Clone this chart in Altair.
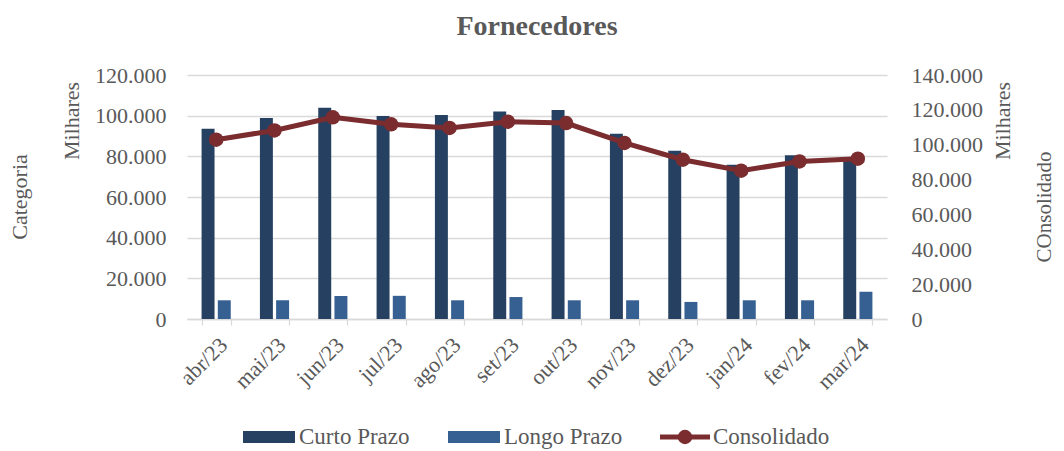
import altair as alt
import pandas as pd

categorias = ["abr/23", "mai/23", "jun/23", "jul/23", "ago/23", "set/23",
              "out/23", "nov/23", "dez/23", "jan/24", "fev/24", "mar/24"]
curto_prazo = [93600, 98800, 103900, 99800, 100300, 102100,
               102800, 91100, 82800, 75900, 80500, 78600]
longo_prazo = [9200, 9200, 11300, 11400, 9200, 10800,
               9200, 9200, 8400, 9200, 9200, 13400]
consolidado = [102900, 108200, 115700, 111700, 109600, 113200,
               112400, 101000, 91400, 85100, 90400, 92000]
series = ["Curto Prazo", "Longo Prazo"]
ticks_esq = [0, 20000, 40000, 60000, 80000, 100000, 120000]
ticks_dir = [0, 20000, 40000, 60000, 80000, 100000, 120000, 140000]

COR_CURTO = "#264061"
COR_LONGO = "#376092"
COR_LINHA = "#7B2C2E"
FONT = "Liberation Serif"
GRAY = "#595959"
GRID = "#D9D9D9"

df_barras = pd.DataFrame({
    "categoria": categorias * 2,
    "serie": [series[0]] * len(categorias) + [series[1]] * len(categorias),
    "valor": curto_prazo + longo_prazo,
})
df_linha = pd.DataFrame({"categoria": categorias, "valor": consolidado})

fmt = "replace(format(datum.value, ',.0f'), regexp(',', 'g'), '.')"

x_enc = alt.X(
    "categoria:N", sort=categorias,
    scale=alt.Scale(paddingInner=0.5, paddingOuter=0.25),
    axis=alt.Axis(title=None, labelAngle=-45, labelAlign="right", labelBaseline="top",
                  labelFont=FONT, labelFontSize=22, labelColor=GRAY, labelPadding=9,
                  domainColor=GRID, domainWidth=1.3, tickColor=GRID, tickWidth=1.3,
                  tickSize=6, tickBand="extent", grid=False),
)

y_esq = alt.Y(
    "valor:Q", scale=alt.Scale(domain=[0, 120000], nice=False),
    axis=alt.Axis(orient="left", title=None, values=ticks_esq, labelExpr=fmt,
                  labelFont=FONT, labelFontSize=22, labelColor=GRAY, labelPadding=21,
                  domain=False, ticks=False, grid=True, gridColor=GRID, gridWidth=1.3),
)
y_dir = alt.Y(
    "valor:Q", scale=alt.Scale(domain=[0, 140000], nice=False),
    axis=alt.Axis(orient="right", title=None, values=ticks_dir, labelExpr=fmt,
                  labelFont=FONT, labelFontSize=22, labelColor=GRAY, labelPadding=24,
                  domain=False, ticks=False, grid=False),
)

bars = alt.Chart(df_barras).mark_bar().encode(
    x=x_enc,
    xOffset=alt.XOffset("serie:N", sort=series, scale=alt.Scale(paddingInner=0.2, paddingOuter=0)),
    y=y_esq,
    color=alt.Color("serie:N", scale=alt.Scale(domain=series, range=[COR_CURTO, COR_LONGO]), legend=None),
)

line = alt.Chart(df_linha).mark_line(color=COR_LINHA, strokeWidth=5).encode(x=x_enc, y=y_dir)
points = alt.Chart(df_linha).mark_circle(color=COR_LINHA, size=210, opacity=1).encode(x=x_enc, y=y_dir)
linha = alt.layer(line, points)


def texto(t, x, y, size=22, angle=0, weight="normal", align="center"):
    return alt.Chart(pd.DataFrame({"t": [t]})).mark_text(
        font=FONT, fontSize=size, color=GRAY, angle=angle, fontWeight=weight,
        align=align, baseline="middle",
    ).encode(text="t:N", x=alt.value(x), y=alt.value(y))


one = pd.DataFrame({"a": [0]})


def swatch(x1, x2, y1, y2, cor):
    return alt.Chart(one).mark_rect(color=cor).encode(
        x=alt.value(x1), x2=alt.value(x2), y=alt.value(y1), y2=alt.value(y2))


titulo = texto("Fornecedores", 350, -48, size=28, weight="bold")
t_mil_esq = texto("Milhares", -115, 46, angle=270)
t_cat = texto("Categoria", -167, 122, angle=270)
t_mil_dir = texto("Milhares", 816, 46, angle=270)
t_cons = texto("COnsolidado", 858, 132, size=21, angle=270)

LY = 362
leg1 = swatch(56, 108, LY - 6, LY + 6, COR_CURTO)
leg1t = texto("Curto Prazo", 112, LY, size=23, align="left")
leg2 = swatch(261, 313, LY - 6, LY + 6, COR_LONGO)
leg2t = texto("Longo Prazo", 317, LY, size=23, align="left")
leg3 = alt.Chart(one).mark_rule(color=COR_LINHA, strokeWidth=5).encode(
    x=alt.value(473), x2=alt.value(523), y=alt.value(LY))
leg3p = alt.Chart(one).mark_point(filled=True, color=COR_LINHA, size=210, opacity=1, shape="circle").encode(
    x=alt.value(498), y=alt.value(LY))
leg3t = texto("Consolidado", 526, LY, size=23, align="left")

chart = alt.layer(
    bars, linha,
    titulo, t_mil_esq, t_cat, t_mil_dir, t_cons,
    leg1, leg1t, leg2, leg2t, leg3, leg3p, leg3t,
).resolve_scale(y="independent").properties(
    width=700, height=244,
    autosize=alt.AutoSizeParams(type="none"),
    padding={"left": 179, "top": 67, "right": 169, "bottom": 132},
).configure_view(stroke=None)

chart.save("out.html", embed_options={"renderer": "svg", "actions": False})
